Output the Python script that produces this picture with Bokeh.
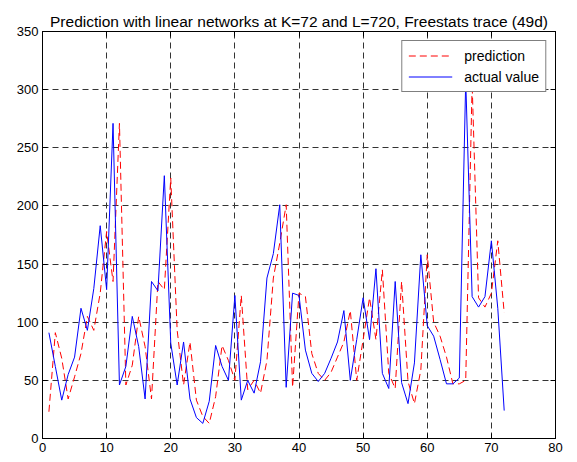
from bokeh.plotting import figure
from bokeh.models import LinearAxis, Range1d, FixedTicker, Legend, LegendItem
from bokeh.embed import file_html
from bokeh.resources import INLINE

# ---- data ----
time_index = list(range(1, 73))
actual_value = [91, 62, 33, 55, 70, 112, 93, 129, 183, 128,
                271, 46, 62, 105, 79, 34, 135, 127, 226, 82,
                46, 83, 34, 18, 13, 32, 80, 62, 50, 123,
                33, 50, 39, 66, 138, 159, 201, 44, 125, 123,
                76, 56, 49, 56, 69, 83, 110, 50, 85, 121,
                85, 146, 56, 43, 135, 48, 30, 65, 158, 97,
                88, 68, 47, 47, 52, 308, 122, 113, 122, 170,
                112, 24]
prediction = [23, 91, 69, 34, 53, 73, 105, 93, 125, 178,
              135, 271, 46, 63, 105, 79, 34, 135, 128, 224,
              93, 46, 83, 33, 19, 13, 36, 80, 67, 50,
              123, 42, 50, 39, 67, 138, 168, 201, 44, 125,
              122, 73, 56, 50, 57, 70, 83, 110, 50, 85,
              121, 85, 145, 56, 43, 135, 49, 30, 59, 158,
              100, 88, 70, 47, 47, 50, 305, 121, 113, 125,
              170, 108]
x_ticks = [0, 10, 20, 30, 40, 50, 60, 70, 80]
y_ticks = [0, 50, 100, 150, 200, 250, 300, 350]
title_text = "Prediction with linear networks at K=72 and L=720, Freestats trace (49d)"

FONT = "Liberation Sans"

p = figure(width=577, height=462, output_backend="svg", toolbar_location=None,
           x_range=Range1d(0, 80), y_range=Range1d(0, 350),
           min_border_left=42, min_border_right=22, min_border_top=31, min_border_bottom=24,
           x_axis_location=None, y_axis_location=None)
p.title.text = title_text
p.title.align = "center"
p.title.text_font = FONT
p.title.text_font_size = "15.5px"
p.title.text_font_style = "normal"
p.title.text_color = "black"
p.title.offset = 0
p.title.standoff = 4

p.background_fill_color = "white"
p.border_fill_color = "white"
p.outline_line_color = "black"
p.outline_line_width = 1

def make_axis(ticks, labels=True):
    ax = LinearAxis(ticker=FixedTicker(ticks=ticks))
    ax.major_tick_in = 5
    ax.major_tick_out = 0
    ax.minor_tick_line_color = None
    ax.axis_line_color = "black"
    ax.major_tick_line_color = "black"
    ax.major_label_text_font = FONT
    ax.major_label_text_font_size = "13px"
    ax.major_label_text_color = "black"
    ax.major_label_standoff = 4
    if not labels:
        ax.major_label_text_font_size = "0px"
        ax.major_label_text_alpha = 0
        ax.major_label_standoff = 0
    return ax

p.add_layout(make_axis(x_ticks), "below")
p.add_layout(make_axis(y_ticks), "left")
p.add_layout(make_axis(x_ticks, labels=False), "above")
p.add_layout(make_axis(y_ticks, labels=False), "right")

p.xgrid.ticker = FixedTicker(ticks=x_ticks)
p.ygrid.ticker = FixedTicker(ticks=y_ticks)
for g in (p.xgrid, p.ygrid):
    g.grid_line_color = "#333333"
    g.grid_line_dash = "6 4"
    g.grid_line_width = 1

r_pred = p.line(time_index, prediction, line_color="red", line_width=1, line_dash="7 4")
r_act = p.line(time_index, actual_value, line_color="blue", line_width=1)

legend = Legend(items=[LegendItem(label="prediction", renderers=[r_pred]),
                       LegendItem(label="actual value", renderers=[r_act])],
                location="top_right")
legend.label_text_font = FONT
legend.label_text_font_size = "14px"
legend.label_text_color = "black"
legend.border_line_color = "black"
legend.border_line_width = 1
legend.background_fill_color = "white"
legend.background_fill_alpha = 1
legend.glyph_width = 44
legend.glyph_height = 17
legend.label_height = 17
legend.label_standoff = 12
legend.padding = 6
legend.spacing = 4
legend.margin = 9
p.add_layout(legend, "center")

open("out.html", "w").write(file_html(p, INLINE))
